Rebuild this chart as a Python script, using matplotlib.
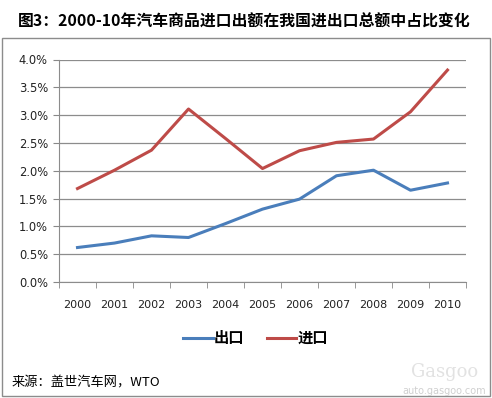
import matplotlib
matplotlib.use("Agg")
import matplotlib.pyplot as plt
from matplotlib.patches import Rectangle
from matplotlib.lines import Line2D
import matplotlib.ticker as mticker

years = ["2000", "2001", "2002", "2003", "2004", "2005", "2006", "2007", "2008", "2009", "2010"]
export_share = [0.62, 0.70, 0.83, 0.80, 1.05, 1.31, 1.49, 1.91, 2.01, 1.65, 1.78]
import_share = [1.68, 2.01, 2.37, 3.11, 2.58, 2.04, 2.36, 2.51, 2.57, 3.06, 3.81]
series_names = ["出口", "进口"]
title = "图3：2000-10年汽车商品进口出额在我国进出口总额中占比变化"
source = "来源：盖世汽车网，WTO"

plt.rcParams['font.family'] = ['Noto Sans CJK SC', 'DejaVu Sans']

W, H = 492, 398
fig = plt.figure(figsize=(W / 100, H / 100), dpi=100)
fig.patch.set_facecolor("white")

def fx(px):
    return px / W

def fy(py):
    return 1 - py / H

# outer border
fig.patches.append(Rectangle((fx(1.5), fy(395.5)), fx(488), (394 - 36) / H,
                             transform=fig.transFigure, fill=False,
                             edgecolor="#8c8c8c", linewidth=1.0))

fig.text(fx(18), fy(22), title, fontsize=11.4, fontweight="bold",
         va="center", ha="left", color="black")

ax = fig.add_axes([fx(59), fy(282), fx(407), 222.5 / H])
x = list(range(len(years)))
c_exp = "#4A7EBB"
c_imp = "#BE4B48"
ax.plot(x, export_share, color=c_exp, linewidth=2.2, solid_joinstyle="round")
ax.plot(x, import_share, color=c_imp, linewidth=2.2, solid_joinstyle="round")

ax.set_xlim(-0.5, len(years) - 0.5)
ax.set_ylim(0, 4.0)
ax.set_yticks([i * 0.5 for i in range(9)])
ax.yaxis.set_major_formatter(mticker.FuncFormatter(lambda v, p: f"{v:.1f}%"))
ax.set_xticks(x)
ax.set_xticklabels(years)
ax.set_xticks([i - 0.5 for i in range(len(years) + 1)], minor=True)
ax.tick_params(axis="x", which="major", length=0, pad=13, labelsize=8, colors="#222222")
ax.tick_params(axis="x", which="minor", length=4, color="#888888", direction="out")
ax.tick_params(axis="y", length=4, color="#888888", labelsize=8.3, colors="#222222", pad=4)
for lbl in ax.get_xticklabels() + ax.get_yticklabels():
    lbl.set_family("DejaVu Sans")
ax.yaxis.grid(True, color="#8c8c8c", linewidth=0.9)
ax.set_axisbelow(True)
for s in ["top", "right"]:
    ax.spines[s].set_visible(False)
ax.spines["left"].set_color("#8c8c8c")
ax.spines["bottom"].set_color("#8c8c8c")
ax.set_facecolor("white")

handles = [Line2D([], [], color=c_exp, linewidth=2.2),
           Line2D([], [], color=c_imp, linewidth=2.2)]
leg = fig.legend(handles, series_names, loc="center", bbox_to_anchor=(fx(256), fy(338)),
                 ncol=2, frameon=False, handlelength=1.9, handletextpad=0.1,
                 columnspacing=1.5, prop={"size": 11, "weight": "bold"})

fig.text(fx(12), fy(383), source, fontsize=9.5, va="center", ha="left", color="black")

fig.text(fx(486), fy(391), "auto.gasgoo.com", fontsize=7, color="#d0d0d0",
         ha="right", va="center", family="DejaVu Sans")
fig.text(fx(478), fy(372), "Gasgoo", fontsize=13, color="#e2e2e2",
         ha="right", va="center", family="DejaVu Serif")

fig.savefig("out.png", dpi=100, facecolor="white")
